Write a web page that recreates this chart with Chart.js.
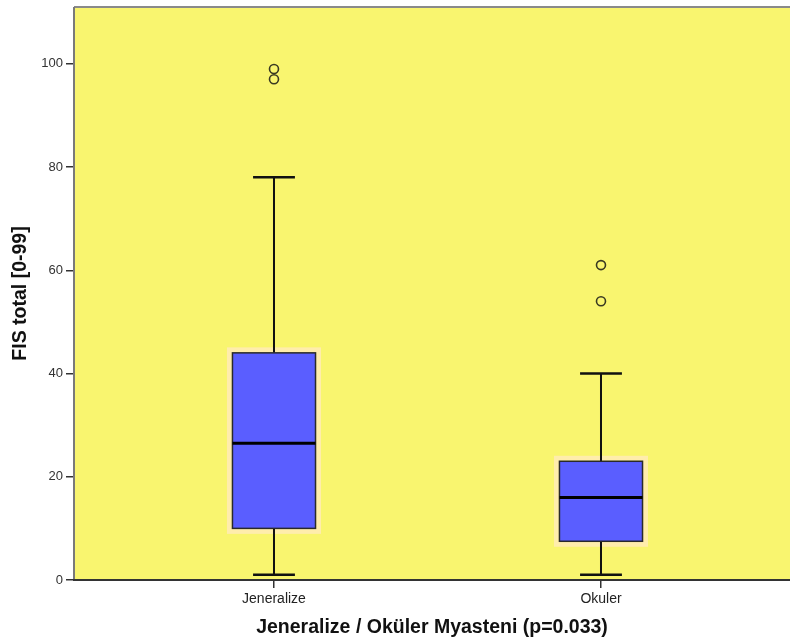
<!DOCTYPE html>
<html>
<head>
<meta charset="utf-8">
<script src="https://cdn.jsdelivr.net/npm/chart.js@4.4.1/dist/chart.umd.min.js"></script>
<style>
  html, body { margin: 0; padding: 0; background: #ffffff; }
  #wrap { width: 790px; height: 644px; }
</style>
</head>
<body>
<div id="wrap"><canvas id="c" width="790" height="644"></canvas></div>
<script>
// FIS total scores by myasthenia type
const categories   = ['Jeneralize', 'Okuler'];
const whiskerLow   = [1, 1];
const q1           = [10, 7.5];
const median       = [26.5, 16];
const q3           = [44, 23];
const whiskerHigh  = [78, 40];
const outliers     = [[99, 97], [61, 54]];
const yTicks       = [0, 20, 40, 60, 80, 100];

const positions = categories.map((_, i) => i + 1);

const outlierPoints = [];
outliers.forEach((vals, i) => vals.forEach(v => outlierPoints.push({ x: positions[i], y: v })));

const BOX_HALF = 0.127;  // half box width in category units
const CAP_HALF = 0.064;  // half whisker-cap width

const boxPlugin = {
  id: 'boxes',
  beforeDatasetsDraw(chart) {
    const { ctx, chartArea: a, scales: { x, y } } = chart;
    ctx.save();
    ctx.fillStyle = '#f9f56f';
    ctx.fillRect(a.left, a.top, a.right - a.left, a.bottom - a.top);

    positions.forEach((p, i) => {
      const cx = x.getPixelForValue(p);
      const xl = x.getPixelForValue(p - BOX_HALF);
      const xr = x.getPixelForValue(p + BOX_HALF);
      const cl = x.getPixelForValue(p - CAP_HALF);
      const cr = x.getPixelForValue(p + CAP_HALF);
      const yLo = y.getPixelForValue(whiskerLow[i]);
      const yQ1 = y.getPixelForValue(q1[i]);
      const yMd = y.getPixelForValue(median[i]);
      const yQ3 = y.getPixelForValue(q3[i]);
      const yHi = y.getPixelForValue(whiskerHigh[i]);

      // soft halo round the box
      ctx.strokeStyle = 'rgba(255, 236, 175, 0.95)';
      ctx.lineWidth = 5;
      ctx.strokeRect(xl - 3, yQ3 - 3, (xr - xl) + 6, (yQ1 - yQ3) + 6);

      // whiskers and caps
      ctx.strokeStyle = '#111111';
      ctx.lineWidth = 2;
      ctx.beginPath();
      ctx.moveTo(cx, yHi); ctx.lineTo(cx, yQ3);
      ctx.moveTo(cx, yQ1); ctx.lineTo(cx, yLo);
      ctx.stroke();
      ctx.lineWidth = 2.5;
      ctx.beginPath();
      ctx.moveTo(cl, yHi); ctx.lineTo(cr, yHi);
      ctx.moveTo(cl, yLo); ctx.lineTo(cr, yLo);
      ctx.stroke();

      // box
      ctx.fillStyle = '#5a5eff';
      ctx.fillRect(xl, yQ3, xr - xl, yQ1 - yQ3);
      ctx.strokeStyle = '#2a2a2a';
      ctx.lineWidth = 1.5;
      ctx.strokeRect(xl, yQ3, xr - xl, yQ1 - yQ3);

      // median
      ctx.strokeStyle = '#000000';
      ctx.lineWidth = 3;
      ctx.beginPath();
      ctx.moveTo(xl, yMd); ctx.lineTo(xr, yMd);
      ctx.stroke();
    });
    ctx.restore();
  },
  afterDraw(chart) {
    const { ctx, chartArea: a } = chart;
    ctx.save();
    ctx.lineWidth = 2;
    ctx.strokeStyle = '#8a8a8a';
    ctx.beginPath();
    ctx.moveTo(a.left, a.top); ctx.lineTo(a.right, a.top);
    ctx.stroke();
    ctx.strokeStyle = '#7a7a7a';
    ctx.beginPath();
    ctx.moveTo(a.left, a.top); ctx.lineTo(a.left, a.bottom);
    ctx.stroke();
    ctx.strokeStyle = '#333333';
    ctx.beginPath();
    ctx.moveTo(a.left - 1, a.bottom); ctx.lineTo(a.right, a.bottom);
    ctx.stroke();
    ctx.restore();
  }
};

new Chart(document.getElementById('c'), {
  type: 'scatter',
  data: {
    datasets: [{
      label: 'Outliers',
      data: outlierPoints,
      pointStyle: 'circle',
      pointRadius: 4.5,
      pointHoverRadius: 4.5,
      pointBorderWidth: 1.6,
      pointBorderColor: '#3a3a22',
      pointBackgroundColor: 'rgba(0,0,0,0)'
    }]
  },
  options: {
    responsive: false,
    animation: false,
    events: [],
    layout: { autoPadding: false, padding: { top: 7, right: 0, left: 0, bottom: 0 } },
    plugins: { legend: { display: false }, tooltip: { enabled: false } },
    scales: {
      x: {
        type: 'linear',
        min: 0.3884,
        max: 2.578,
        afterFit(scale) { scale.height = 64; scale.paddingLeft = 0; scale.paddingRight = 0; },
        afterBuildTicks(scale) { scale.ticks = positions.map(v => ({ value: v })); },
        ticks: {
          callback: (v) => categories[positions.indexOf(v)] ?? '',
          color: '#222222',
          font: { family: 'Liberation Sans', size: 14 },
          padding: 3,
          maxRotation: 0
        },
        grid: { drawOnChartArea: false, drawTicks: true, tickLength: 8, color: '#333333', lineWidth: 1.5 },
        border: { display: false },
        title: {
          display: true,
          text: 'Jeneralize / Oküler Myasteni (p=0.033)',
          color: '#111111',
          font: { family: 'Liberation Sans', size: 19.5, weight: 'bold' },
          padding: { top: 0, bottom: 5 }
        }
      },
      y: {
        min: 0,
        max: 111,
        afterFit(scale) { scale.width = 74; scale.paddingTop = 0; scale.paddingBottom = 0; },
        afterBuildTicks(scale) { scale.ticks = yTicks.map(v => ({ value: v })); },
        ticks: {
          color: '#333333',
          font: { family: 'Liberation Sans', size: 13 },
          padding: 3
        },
        grid: { drawOnChartArea: false, drawTicks: true, tickLength: 8, color: '#333333', lineWidth: 1.5 },
        border: { display: false },
        title: {
          display: true,
          text: 'FIS total [0-99]',
          color: '#111111',
          font: { family: 'Liberation Sans', size: 19.5, weight: 'bold' },
          padding: { top: 9, bottom: 0 }
        }
      }
    }
  },
  plugins: [boxPlugin]
});
</script>
</body>
</html>
